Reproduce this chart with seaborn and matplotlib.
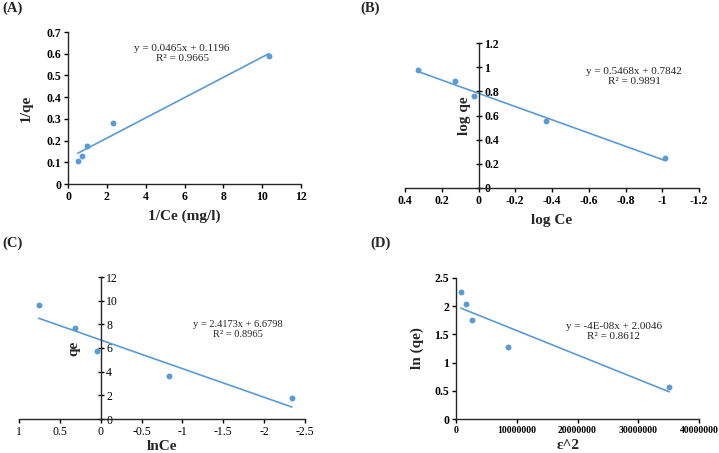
import matplotlib
matplotlib.use("Agg")
import matplotlib.pyplot as plt
import seaborn as sns
import numpy as np

# (A) Langmuir
a_x = [0.50, 0.72, 0.97, 2.32, 10.35]
a_y = [0.105, 0.130, 0.175, 0.283, 0.590]
a_eq = "y = 0.0465x + 0.1196\nR² = 0.9665"

# (B) Freundlich
b_x = [0.33, 0.13, 0.025, -0.37, -1.015]
b_y = [0.980, 0.885, 0.760, 0.555, 0.245]
b_eq = "y = 0.5468x + 0.7842\nR² = 0.9891"

# (C) Temkin
c_x = [0.76, 0.31, 0.05, -0.84, -2.34]
c_y = [9.6, 7.7, 5.75, 3.6, 1.75]
c_eq = "y = 2.4173x + 6.6798\nR² = 0.8965"

# (D) D-R
d_x = [800000, 1700000, 2600000, 8500000, 35100000]
d_y = [2.26, 2.04, 1.75, 1.28, 0.565]
d_eq = "y = -4E-08x + 2.0046\nR² = 0.8612"

BLUE = "#5B9BD5"

sns.set_theme(style="ticks")
plt.rcParams['font.family'] = ['Liberation Serif', 'DejaVu Serif']
plt.rcParams['axes.linewidth'] = 1.0

fig = plt.figure(figsize=(7.19, 4.53), dpi=100)
W, H = 719, 453

def add_ax(left, right, top, bottom):
    return fig.add_axes([left / W, 1 - bottom / H, (right - left) / W, (bottom - top) / H])

def draw(ax, x, y):
    sns.regplot(x=np.array(x), y=np.array(y), ax=ax, ci=None, color=BLUE,
                scatter_kws=dict(s=18, linewidths=0, alpha=1),
                line_kws=dict(lw=1.2))

def style_ticks(ax, bold=True, size=8.5):
    for lab in ax.get_xticklabels() + ax.get_yticklabels():
        lab.set_fontweight("bold" if bold else "normal")
        lab.set_fontsize(size)
    ax.tick_params(length=3, width=1, pad=2, colors="black")

# ---- A ----
axA = add_ax(68, 301, 32, 184)
draw(axA, a_x, a_y)
axA.set_xlim(0, 12)
axA.set_ylim(0, 0.7)
axA.set_xticks(range(0, 13, 2))
axA.set_yticks(np.arange(0, 0.71, 0.1))
axA.set_yticklabels(["0", "0.1", "0.2", "0.3", "0.4", "0.5", "0.6", "0.7"])
sns.despine(ax=axA)
style_ticks(axA)
axA.set_xlabel("1/Ce (mg/l)", fontsize=11, fontweight="bold")
axA.set_ylabel("1/qe", fontsize=11, fontweight="bold")
axA.xaxis.set_label_coords(0.5, -0.17)
axA.yaxis.set_label_coords(-0.15, 0.5)
axA.text(0.49, 0.86, a_eq, transform=axA.transAxes, ha="center", va="center",
         fontsize=8, linespacing=1.1)

# ---- B ----
axB = add_ax(405, 699, 43, 188)
draw(axB, b_x, b_y)
axB.set_xlim(0.4, -1.2)
axB.set_ylim(0, 1.2)
axB.set_xticks([0.4, 0.2, 0, -0.2, -0.4, -0.6, -0.8, -1, -1.2])
axB.set_xticklabels(["0.4", "0.2", "0", "-0.2", "-0.4", "-0.6", "-0.8", "-1", "-1.2"])
axB.set_yticks([0, 0.2, 0.4, 0.6, 0.8, 1.0, 1.2])
axB.set_yticklabels(["0", "0.2", "0.4", "0.6", "0.8", "1", "1.2"])
axB.spines["top"].set_visible(False)
axB.spines["left"].set_visible(False)
axB.spines["right"].set_position(("data", 0))
axB.yaxis.tick_right()
style_ticks(axB)
axB.tick_params(axis="y", direction="inout", length=4)
axB.set_xlabel("log Ce", fontsize=11, fontweight="bold")
axB.set_ylabel("log qe", fontsize=11, fontweight="bold")
axB.yaxis.set_label_position("left")
axB.xaxis.set_label_coords(0.5, -0.18)
axB.yaxis.set_label_coords(0.225, 0.5)
axB.text(0.78, 0.77, b_eq, transform=axB.transAxes, ha="center", va="center",
         fontsize=8, linespacing=1.1)

# ---- C ----
axC = add_ax(19, 305, 277, 419)
draw(axC, c_x, c_y)
axC.set_xlim(1, -2.5)
axC.set_ylim(0, 12)
axC.set_xticks([1, 0.5, 0, -0.5, -1, -1.5, -2, -2.5])
axC.set_xticklabels(["1", "0.5", "0", "-0.5", "-1", "-1.5", "-2", "-2.5"])
axC.set_yticks(range(0, 13, 2))
axC.spines["top"].set_visible(False)
axC.spines["left"].set_visible(False)
axC.spines["right"].set_position(("data", 0))
axC.yaxis.tick_right()
style_ticks(axC, bold=False)
axC.tick_params(axis="y", direction="inout", length=4)
axC.set_xlabel("lnCe", fontsize=11, fontweight="bold")
axC.set_ylabel("qe", fontsize=11, fontweight="bold")
axC.yaxis.set_label_position("left")
axC.xaxis.set_label_coords(0.5, -0.15)
axC.yaxis.set_label_coords(0.215, 0.5)
axC.text(0.765, 0.63, c_eq, transform=axC.transAxes, ha="center", va="center",
         fontsize=7.5, linespacing=1.1)

# ---- D ----
axD = add_ax(456, 699, 278, 419)
draw(axD, d_x, d_y)
axD.set_xlim(0, 40000000)
axD.set_ylim(0, 2.5)
axD.set_xticks([0, 10000000, 20000000, 30000000, 40000000])
axD.set_xticklabels(["0", "10000000", "20000000", "30000000", "40000000"])
axD.set_yticks([0, 0.5, 1, 1.5, 2, 2.5])
axD.set_yticklabels(["0", "0.5", "1", "1.5", "2", "2.5"])
sns.despine(ax=axD)
style_ticks(axD)
for lab in axD.get_xticklabels():
    lab.set_fontsize(7)
axD.set_xlabel("ε^2", fontsize=11, fontweight="bold")
axD.set_ylabel("ln (qe)", fontsize=11, fontweight="bold")
axD.xaxis.set_label_coords(0.46, -0.14)
axD.yaxis.set_label_coords(-0.13, 0.5)
axD.text(0.65, 0.62, d_eq, transform=axD.transAxes, ha="center", va="center",
         fontsize=8, linespacing=1.1)

# panel letters
for lab, (px, py) in zip(["(A)", "(B)", "(C)", "(D)"],
                         [(2, 8), (360, 8), (2, 243), (370, 243)]):
    fig.text(px / W, 1 - py / H, lab, fontsize=10.5, fontweight="bold", va="center")

fig.savefig("out.png", dpi=100)
